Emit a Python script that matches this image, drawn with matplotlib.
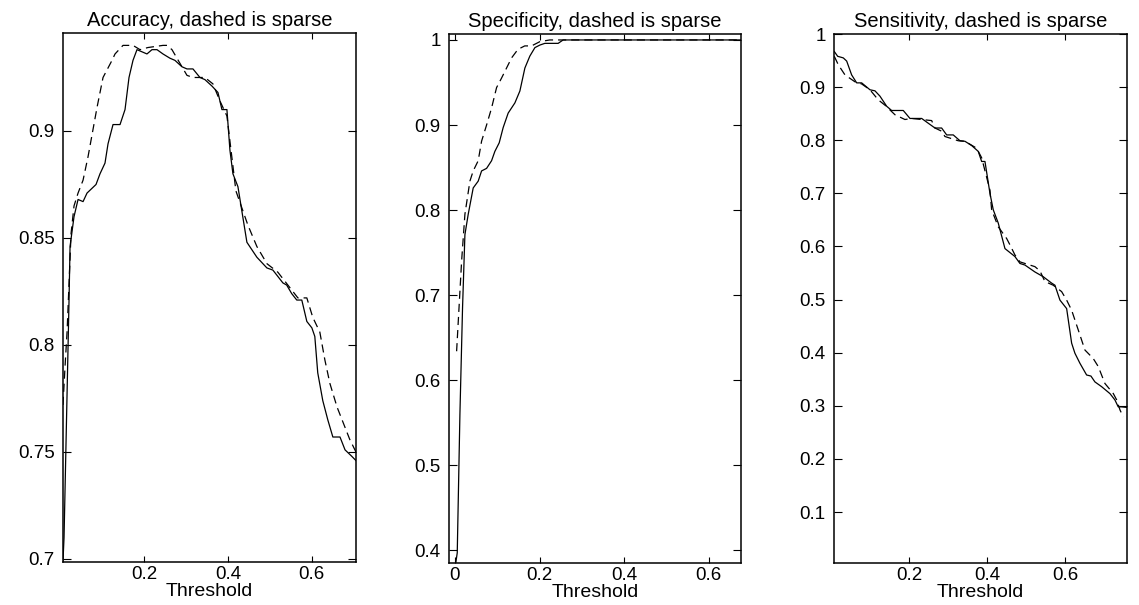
import numpy as np
import matplotlib
matplotlib.use("Agg")
from matplotlib import pyplot as plt
from matplotlib.ticker import FormatStrFormatter

plt.rcParams['font.family'] = ['Liberation Sans', 'DejaVu Sans']

# accuracy curves (solid = full, dashed = sparse)
acc_thr_solid = [0.007, 0.0095, 0.0214, 0.0238, 0.0333, 0.0429, 0.0548, 0.0643, 0.0857, 0.0952,
                 0.1071, 0.1143, 0.1262, 0.1429, 0.1548, 0.1643, 0.1738, 0.1833, 0.1952, 0.2071,
                 0.2190, 0.2310, 0.2452, 0.2619, 0.2738, 0.2905, 0.3024, 0.3167, 0.3333, 0.3452,
                 0.3619, 0.3762, 0.3857, 0.3976, 0.4048, 0.4119, 0.4238, 0.4452, 0.4690, 0.4833,
                 0.4929, 0.5071, 0.5310, 0.540, 0.552, 0.564, 0.576, 0.588, 0.600, 0.607,
                 0.614, 0.626, 0.638, 0.650, 0.667, 0.679, 0.695, 0.705]
acc_solid = [0.699, 0.71, 0.821, 0.846, 0.860, 0.868, 0.867, 0.871, 0.875, 0.880,
             0.885, 0.894, 0.903, 0.903, 0.910, 0.925, 0.933, 0.938, 0.937, 0.936,
             0.938, 0.938, 0.936, 0.934, 0.933, 0.930, 0.929, 0.929, 0.925, 0.924,
             0.921, 0.918, 0.910, 0.910, 0.891, 0.880, 0.874, 0.848, 0.841, 0.838,
             0.836, 0.835, 0.829, 0.828, 0.824, 0.821, 0.821, 0.811, 0.808, 0.804,
             0.787, 0.774, 0.765, 0.757, 0.757, 0.751, 0.748, 0.746]
acc_thr_dash = [0.007, 0.0119, 0.0167, 0.0262, 0.0333, 0.0429, 0.0548, 0.0667, 0.0881, 0.1024,
                0.1238, 0.131, 0.150, 0.1738, 0.1905, 0.2095, 0.2452, 0.2548, 0.2667, 0.2905,
                0.3024, 0.3167, 0.3452, 0.3643, 0.3810, 0.3976, 0.4190, 0.4476, 0.4690, 0.4929,
                0.5190, 0.5667, 0.588, 0.602, 0.619, 0.631, 0.643, 0.660, 0.674, 0.690,
                0.705]
acc_dash = [0.772, 0.790, 0.806, 0.852, 0.865, 0.871, 0.877, 0.888, 0.911, 0.925,
            0.933, 0.936, 0.940, 0.940, 0.938, 0.939, 0.940, 0.940, 0.938, 0.930,
            0.926, 0.925, 0.925, 0.922, 0.914, 0.907, 0.872, 0.856, 0.846, 0.838,
            0.834, 0.822, 0.822, 0.813, 0.806, 0.793, 0.782, 0.771, 0.764, 0.756,
            0.750]

# specificity curves
spec_thr_solid = [0.002, 0.0055, 0.0118, 0.018, 0.0236, 0.0314, 0.0432, 0.055, 0.063, 0.0748,
                  0.0866, 0.0944, 0.1046, 0.114, 0.1258, 0.1417, 0.1535, 0.1653, 0.177, 0.189,
                  0.2007, 0.2125, 0.2439, 0.2557, 0.675]
spec_solid = [0.385, 0.397, 0.56, 0.685, 0.771, 0.795, 0.826, 0.834, 0.846, 0.849,
              0.858, 0.869, 0.879, 0.897, 0.914, 0.926, 0.940, 0.967, 0.981, 0.991,
              0.994, 0.996, 0.996, 1.0, 1.0]
spec_thr_dash = [0.004, 0.0158, 0.0236, 0.0354, 0.0432, 0.055, 0.063, 0.0748, 0.0866, 0.0984,
                 0.110, 0.122, 0.134, 0.149, 0.165, 0.181, 0.2007, 0.224, 0.675]
spec_dash = [0.634, 0.740, 0.795, 0.834, 0.846, 0.858, 0.881, 0.900, 0.920, 0.944,
             0.955, 0.967, 0.979, 0.989, 0.993, 0.993, 0.998, 1.0, 1.0]

# sensitivity curves
sens_thr_solid = [0.0085, 0.0172, 0.0316, 0.0403, 0.053, 0.0659, 0.0787, 0.1, 0.1128, 0.1256,
                  0.1428, 0.1556, 0.1854, 0.2026, 0.2326, 0.2495, 0.2667, 0.2838, 0.2967, 0.3136,
                  0.3308, 0.3436, 0.3608, 0.3777, 0.3864, 0.3949, 0.4077, 0.4162, 0.429, 0.4462,
                  0.4718, 0.4846, 0.4974, 0.523, 0.5444, 0.5659, 0.5744, 0.5872, 0.6044, 0.6172,
                  0.6256, 0.6385, 0.6556, 0.6667, 0.6769, 0.6941, 0.7154, 0.7282, 0.7367, 0.7454,
                  0.7582]
sens_solid = [0.967, 0.958, 0.955, 0.949, 0.923, 0.908, 0.908, 0.895, 0.893, 0.883,
              0.864, 0.856, 0.856, 0.841, 0.841, 0.832, 0.823, 0.823, 0.810, 0.810,
              0.799, 0.798, 0.790, 0.779, 0.760, 0.760, 0.700, 0.669, 0.644, 0.596,
              0.581, 0.568, 0.565, 0.552, 0.543, 0.531, 0.527, 0.499, 0.483, 0.418,
              0.399, 0.380, 0.358, 0.356, 0.345, 0.336, 0.323, 0.311, 0.298, 0.298,
              0.297]
sens_thr_dash = [0.0085, 0.0188, 0.0359, 0.0615, 0.0787, 0.1, 0.1213, 0.1385, 0.1641, 0.1897,
                 0.2069, 0.2582, 0.2667, 0.2838, 0.2923, 0.3264, 0.3436, 0.3736, 0.3864, 0.4077,
                 0.412, 0.429, 0.4505, 0.459, 0.4718, 0.4846, 0.523, 0.5359, 0.5487, 0.57,
                 0.5915, 0.6044, 0.6172, 0.6341, 0.6513, 0.6726, 0.6854, 0.7026, 0.7241, 0.7328,
                 0.7413, 0.7497]
sens_dash = [0.958, 0.942, 0.923, 0.910, 0.906, 0.895, 0.876, 0.866, 0.848, 0.839,
             0.841, 0.837, 0.823, 0.817, 0.807, 0.799, 0.798, 0.785, 0.767, 0.706,
             0.669, 0.637, 0.615, 0.603, 0.584, 0.571, 0.562, 0.554, 0.534, 0.527,
             0.515, 0.499, 0.480, 0.443, 0.405, 0.389, 0.374, 0.342, 0.323, 0.311,
             0.292, 0.279]

titles = ["Accuracy, dashed is sparse", "Specificity, dashed is sparse", "Sensitivity, dashed is sparse"]
xticks = [[0.2, 0.4, 0.6], [0, 0.2, 0.4, 0.6], [0.2, 0.4, 0.6]]
yticks = [[0.7, 0.75, 0.8, 0.85, 0.9],
          [0.4, 0.5, 0.6, 0.7, 0.8, 0.9, 1.0],
          [0.1, 0.2, 0.3, 0.4, 0.5, 0.6, 0.7, 0.8, 0.9, 1.0]]
xlims = [(0.007, 0.705), (-0.014, 0.676), (0.0077, 0.759)]
ylims = [(0.6986, 0.9458), (0.385, 1.007), (0.004, 1.0)]

curves = [(acc_thr_solid, acc_solid, acc_thr_dash, acc_dash),
          (spec_thr_solid, spec_solid, spec_thr_dash, spec_dash),
          (sens_thr_solid, sens_solid, sens_thr_dash, sens_dash)]

fig = plt.figure(figsize=(11.39, 6.05), dpi=100)
positions = [[0.0553, 0.0711, 0.2572, 0.8744],
             [0.3942, 0.0694, 0.2564, 0.8744],
             [0.7322, 0.0694, 0.2572, 0.8744]]

for i in range(3):
    ax = fig.add_axes(positions[i])
    xs, ys, xd, yd = curves[i]
    ax.plot(xs, ys, color='black', lw=0.9)
    ax.plot(xd, yd, color='black', lw=0.9, linestyle=(0, (6.5, 4)))
    ax.set_xlim(xlims[i])
    ax.set_ylim(ylims[i])
    ax.set_xticks(xticks[i])
    ax.set_yticks(yticks[i])
    ax.xaxis.set_major_formatter(FormatStrFormatter('%g'))
    ax.yaxis.set_major_formatter(FormatStrFormatter('%g'))
    ax.tick_params(direction='in', top=True, right=True, labelsize=13.5, width=0.8)
    ax.tick_params(axis='x', length=4, pad=3)
    ax.tick_params(axis='y', length=6, pad=6)
    for s in ax.spines.values():
        s.set_linewidth(1.1)
    ax.set_title(titles[i], fontsize=14.5, pad=5)
    ax.set_xlabel("Threshold", fontsize=14, labelpad=0)

plt.savefig("out.png", dpi=100)
